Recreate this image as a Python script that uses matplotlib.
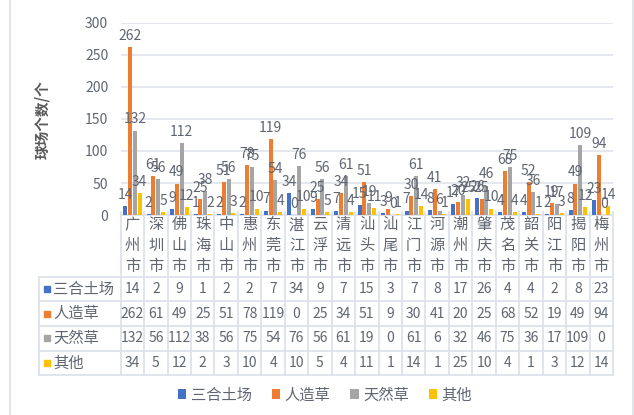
import matplotlib
matplotlib.use('Agg')
import matplotlib.pyplot as plt
from matplotlib.lines import Line2D
from matplotlib.patches import Patch
import numpy as np

plt.rcParams['font.family'] = ['Noto Sans CJK SC', 'DejaVu Sans']

# data
cities = ['广州市', '深圳市', '佛山市', '珠海市', '中山市', '惠州市', '东莞市',
          '湛江市', '云浮市', '清远市', '汕头市', '汕尾市', '江门市', '河源市',
          '潮州市', '肇庆市', '茂名市', '韶关市', '阳江市', '揭阳市', '梅州市']
series_names = ['三合土场', '人造草', '天然草', '其他']
sanhe = [14, 2, 9, 1, 2, 2, 7, 34, 9, 7, 15, 3, 7, 8, 17, 26, 4, 4, 2, 8, 23]
rengong = [262, 61, 49, 25, 51, 78, 119, 0, 25, 34, 51, 9, 30, 41, 20, 25, 68, 52, 19, 49, 94]
tianran = [132, 56, 112, 38, 56, 75, 54, 76, 56, 61, 19, 0, 61, 6, 32, 46, 75, 36, 17, 109, 0]
qita = [34, 5, 12, 2, 3, 10, 4, 10, 5, 4, 11, 1, 14, 1, 25, 10, 4, 1, 3, 12, 14]

series = [sanhe, rengong, tianran, qita]
colors = ['#4472C4', '#ED7D31', '#A5A5A5', '#FFC000']
text_c = '#5f6571'
line_c = '#dde2ea'

W, H = 634, 415
fig = plt.figure(figsize=(W / 100, H / 100), dpi=100)

ax_l, ax_r, ax_t, ax_b = 120.7, 613, 23, 215
ax = fig.add_axes([ax_l / W, 1 - ax_b / H, (ax_r - ax_l) / W, (ax_b - ax_t) / H])

n = len(cities)
x = np.arange(n)
step, bw = 0.205, 0.17
for k, (vals, col) in enumerate(zip(series, colors)):
    xs = x + (k - 1.5) * step
    ax.bar(xs, vals, width=bw, color=col, zorder=3)
    for xi, v in zip(xs, vals):
        ax.annotate(str(v), (xi, v), xytext=(0, 3), textcoords='offset points',
                    ha='center', va='bottom', fontsize=10, color=text_c, zorder=4)

ax.set_xlim(-0.5, n - 0.5)
ax.set_ylim(0, 300)
ax.set_yticks(range(0, 301, 50))
ax.set_xticks([])
ax.tick_params(axis='y', length=0, pad=9, labelsize=10, labelcolor=text_c)
ax.grid(axis='y', color=line_c, linewidth=1.1, zorder=0)
for s in ax.spines.values():
    s.set_visible(False)

# table below the axes: x in data units, y in axes fraction
tr = ax.get_xaxis_transform()
cell = (ax_r - ax_l) / n


def px_x(px):
    return (px - ax_l) / cell - 0.5


def px_y(py):
    return (ax_b - py) / (ax_b - ax_t)


row_edges = [276.7, 301.3, 325.9, 350.5, 375.1]
left = px_x(39)


def tline(xx, yy):
    ax.plot(xx, yy, transform=tr, color=line_c, lw=1.3, clip_on=False, zorder=2)


tline([-0.5, n - 0.5], [px_y(215), px_y(215)])
for ye in row_edges:
    tline([left, n - 0.5], [px_y(ye), px_y(ye)])
for i in range(n + 1):
    tline([i - 0.5, i - 0.5], [px_y(212), px_y(375.1)])
tline([left, left], [px_y(276.7), px_y(375.1)])

for i, c in enumerate(cities):
    ax.text(i, px_y(245.5), '\n'.join(c), transform=tr, ha='center', va='center',
            fontsize=11, color=text_c, linespacing=1.3)

for r, (name, vals, col) in enumerate(zip(series_names, series, colors)):
    yc = px_y((row_edges[r] + row_edges[r + 1]) / 2)
    ax.plot([px_x(46.5)], [yc], transform=tr, marker='s', ms=5, color=col,
            clip_on=False, linestyle='none')
    ax.text(px_x(53), yc, name, transform=tr, ha='left', va='center',
            fontsize=11, color=text_c)
    for i, v in enumerate(vals):
        ax.text(i, yc, str(v), transform=tr, ha='center', va='center',
                fontsize=10, color=text_c)

# y label
fig.text(42 / W, 1 - 120 / H, '球场个数/个', rotation=90, ha='center', va='center',
         fontsize=10.5, color='#595959', fontweight='bold')

# legend
handles = [Patch(facecolor=c, edgecolor='none') for c in colors]
fig.legend(handles, series_names, loc='center', bbox_to_anchor=(325 / W, 1 - 395 / H),
           ncol=4, frameon=False, fontsize=11, labelcolor=text_c,
           handlelength=0.55, handleheight=0.55, handletextpad=0.3, columnspacing=1.3)

# chart border
for bx in (10, 633):
    fig.add_artist(Line2D([bx / W, bx / W], [0, 1], color=line_c, lw=1.3))

fig.savefig('out.png', dpi=100)
